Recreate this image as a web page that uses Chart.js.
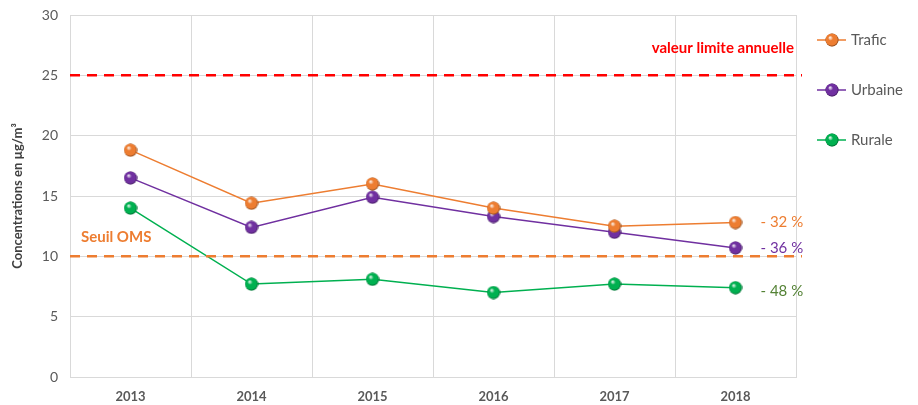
<!DOCTYPE html>
<html>
<head>
<meta charset="utf-8">
<script src="https://cdn.jsdelivr.net/npm/chart.js@4"></script>
<style>
  html, body { margin: 0; padding: 0; background: #ffffff; }
  #wrap { width: 918px; height: 405px; }
</style>
</head>
<body>
<div id="wrap"><canvas id="chart" width="918" height="405"></canvas></div>
<script>
const years = ['2013', '2014', '2015', '2016', '2017', '2018'];
const trafic = [18.8, 14.4, 16.0, 14.0, 12.5, 12.8];
const urbaine = [16.5, 12.4, 14.9, 13.3, 12.0, 10.7];
const rurale = [14.0, 7.7, 8.1, 7.0, 7.7, 7.4];
const seriesNames = ['Trafic', 'Urbaine', 'Rurale'];
const seriesColors = ['#ED7D31', '#7030A0', '#00B050'];
const changeLabels = ['- 32 %', '- 36 %', '- 48 %'];
const changeColors = ['#ED7D31', '#7030A0', '#548235'];
const limitValue = 25;
const limitLabel = 'valeur limite annuelle';
const omsValue = 10;
const omsLabel = 'Seuil OMS';

const fontFamily = 'Lato, "Open Sans", sans-serif';
const textGray = '#595959';

function sphere(color) {
    const c = document.createElement('canvas');
    c.width = 14;
    c.height = 14;
    const g = c.getContext('2d');
    const grad = g.createRadialGradient(5, 4.5, 0.5, 7, 7, 7);
    grad.addColorStop(0, 'rgba(255,255,255,0.8)');
    grad.addColorStop(0.3, color);
    grad.addColorStop(0.8, color);
    grad.addColorStop(1, 'rgba(0,0,0,0.45)');
    g.fillStyle = color;
    g.beginPath();
    g.arc(7, 7, 6.5, 0, Math.PI * 2);
    g.fill();
    g.fillStyle = grad;
    g.beginPath();
    g.arc(7, 7, 6.5, 0, Math.PI * 2);
    g.fill();
    return c;
}

const spheres = seriesColors.map(sphere);

const refLines = {
    id: 'refLines',
    afterDatasetsDraw(chart) {
        const ctx = chart.ctx;
        const area = chart.chartArea;
        const y = chart.scales.y;
        const x = chart.scales.x;

        ctx.save();
        ctx.lineWidth = 2.5;
        ctx.setLineDash([10, 7]);
        [[limitValue, '#FF0000'], [omsValue, '#ED7D31']].forEach(function(item) {
            const py = y.getPixelForValue(item[0]);
            ctx.strokeStyle = item[1];
            ctx.beginPath();
            ctx.moveTo(area.left, py);
            ctx.lineTo(area.right + 6, py);
            ctx.stroke();
        });
        ctx.setLineDash([]);

        ctx.font = 'bold 15px ' + fontFamily;
        ctx.textBaseline = 'middle';
        ctx.fillStyle = '#FF0000';
        ctx.textAlign = 'right';
        ctx.fillText(limitLabel, area.right - 2, y.getPixelForValue(limitValue) - 27);
        ctx.fillStyle = '#ED7D31';
        ctx.textAlign = 'left';
        ctx.fillText(omsLabel, area.left + 11, y.getPixelForValue(omsValue) - 19);

        // variation labels next to the last points
        ctx.font = '15px ' + fontFamily;
        const lastX = x.getPixelForValue(years.length - 1);
        chart.data.datasets.forEach(function(ds, i) {
            const last = ds.data[ds.data.length - 1];
            ctx.fillStyle = changeColors[i];
            ctx.fillText(changeLabels[i], lastX + 25, y.getPixelForValue(last) + (i === 2 ? 3 : 0));
        });

        // legend
        ctx.font = '15px ' + fontFamily;
        ctx.lineWidth = 1.5;
        seriesNames.forEach(function(name, i) {
            const ly = 40 + i * 50;
            ctx.strokeStyle = seriesColors[i];
            ctx.beginPath();
            ctx.moveTo(817, ly);
            ctx.lineTo(846, ly);
            ctx.stroke();
            ctx.drawImage(spheres[i], 825, ly - 7);
            ctx.fillStyle = textGray;
            ctx.fillText(name, 851, ly);
        });
        ctx.restore();
    }
};

const datasets = [trafic, urbaine, rurale].map(function(values, i) {
    return {
        label: seriesNames[i],
        data: values,
        borderColor: seriesColors[i],
        backgroundColor: seriesColors[i],
        borderWidth: 1.5,
        pointStyle: spheres[i],
        pointRadius: 7,
        tension: 0
    };
});

new Chart(document.getElementById('chart').getContext('2d'), {
    type: 'line',
    data: { labels: years, datasets: datasets },
    options: {
        responsive: false,
        animation: false,
        layout: { padding: { top: 15, right: 122, left: 0, bottom: 0 } },
        plugins: {
            legend: { display: false },
            tooltip: { enabled: false }
        },
        scales: {
            x: {
                offset: true,
                grid: { offset: true, color: '#d9d9d9', drawTicks: false },
                border: { color: '#d9d9d9' },
                ticks: {
                    color: textGray,
                    padding: 12,
                    font: { family: fontFamily, size: 13, weight: 'bold' }
                },
                afterFit: function(scale) {
                    scale.height = 28;
                    scale.paddingLeft = 0;
                    scale.paddingRight = 0;
                }
            },
            y: {
                min: 0,
                max: 30,
                ticks: {
                    stepSize: 5,
                    color: textGray,
                    padding: 12,
                    font: { family: fontFamily, size: 14 }
                },
                grid: { color: '#d9d9d9', drawTicks: false },
                border: { color: '#d9d9d9' },
                title: {
                    display: true,
                    text: 'Concentrations en µg/m³',
                    color: '#404040',
                    padding: { top: 10, bottom: 4 },
                    font: { family: fontFamily, size: 13, weight: 'bold' }
                },
                afterFit: function(scale) {
                    scale.width = 70;
                    scale.paddingTop = 0;
                    scale.paddingBottom = 0;
                }
            }
        }
    },
    plugins: [refLines]
});
</script>
</body>
</html>
